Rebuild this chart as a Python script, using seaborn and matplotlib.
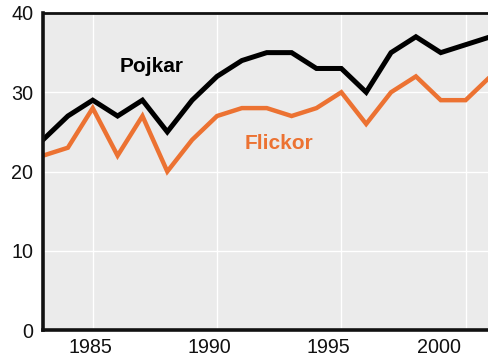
import numpy as np
import pandas as pd
import seaborn as sns
import matplotlib.pyplot as plt
from matplotlib.ticker import FixedLocator, FixedFormatter, NullFormatter

years = list(range(1983, 2002))
pojkar = [24, 27, 29, 27, 29, 25, 29, 32, 34, 35, 35, 33, 33, 30, 35, 37, 35, 36, 37]
flickor = [22, 23, 28, 22, 27, 20, 24, 27, 28, 28, 27, 28, 30, 26, 30, 32, 29, 29, 32]
series = ["Pojkar", "Flickor"]
colors = {"Pojkar": "#000000", "Flickor": "#EC7232"}
xticks = [1985, 1990, 1995, 2000]
xtick_labels = ["1985", "1990", "1995", "2000"]
yticks = [0, 10, 20, 30, 40]

# year labels sit slightly left of their grid lines
xlabel_pos = [1984.89, 1989.69, 1994.46, 1998.92]

df = pd.DataFrame({"År": years * 2,
                   "Andel": pojkar + flickor,
                   "Grupp": ["Pojkar"] * len(years) + ["Flickor"] * len(years)})

sns.set_theme(style="darkgrid")
plt.rcParams["font.family"] = ["Liberation Sans", "DejaVu Sans"]

fig = plt.figure(figsize=(4.88, 3.61), dpi=100)
ax = fig.add_axes([43 / 488, 31 / 361, 445 / 488, 317 / 361])
ax.set_facecolor("#EBEBEB")

sns.lineplot(data=df, x="År", y="Andel", hue="Grupp", hue_order=series,
             palette=colors, ax=ax, legend=False, linewidth=3.4,
             solid_joinstyle="miter")
for ln, lw in zip(ax.lines, [3.6, 3.2]):
    ln.set_linewidth(lw)

ax.set_xlim(1983, 2000.9)
ax.set_ylim(0, 40)
ax.xaxis.set_major_locator(FixedLocator(xticks))
ax.xaxis.set_major_formatter(NullFormatter())
ax.xaxis.set_minor_locator(FixedLocator(xlabel_pos))
ax.xaxis.set_minor_formatter(FixedFormatter(xtick_labels))
ax.set_yticks(yticks)
ax.grid(True, which="major", color="white", linewidth=1.0)
ax.grid(False, which="minor")
ax.tick_params(axis="both", which="both", labelsize=14.2, length=0,
               colors="#111111")
ax.tick_params(axis="y", pad=7)
ax.tick_params(axis="x", which="both", pad=6)
ax.set_xlabel("")
ax.set_ylabel("")

for side in ["left", "bottom"]:
    ax.spines[side].set_visible(True)
    ax.spines[side].set_color("#111111")
    ax.spines[side].set_linewidth(2.6)
ax.spines["top"].set_visible(True)
ax.spines["top"].set_color("#111111")
ax.spines["top"].set_linewidth(2)
ax.spines["right"].set_visible(False)

ax.text(1987.35, 33.3, "Pojkar", color="#000000", fontsize=15,
        fontweight="bold", ha="center", va="center")
ax.text(1992.5, 23.5, "Flickor", color="#EC7232", fontsize=15,
        fontweight="bold", ha="center", va="center")

fig.savefig("out.png", dpi=100)
